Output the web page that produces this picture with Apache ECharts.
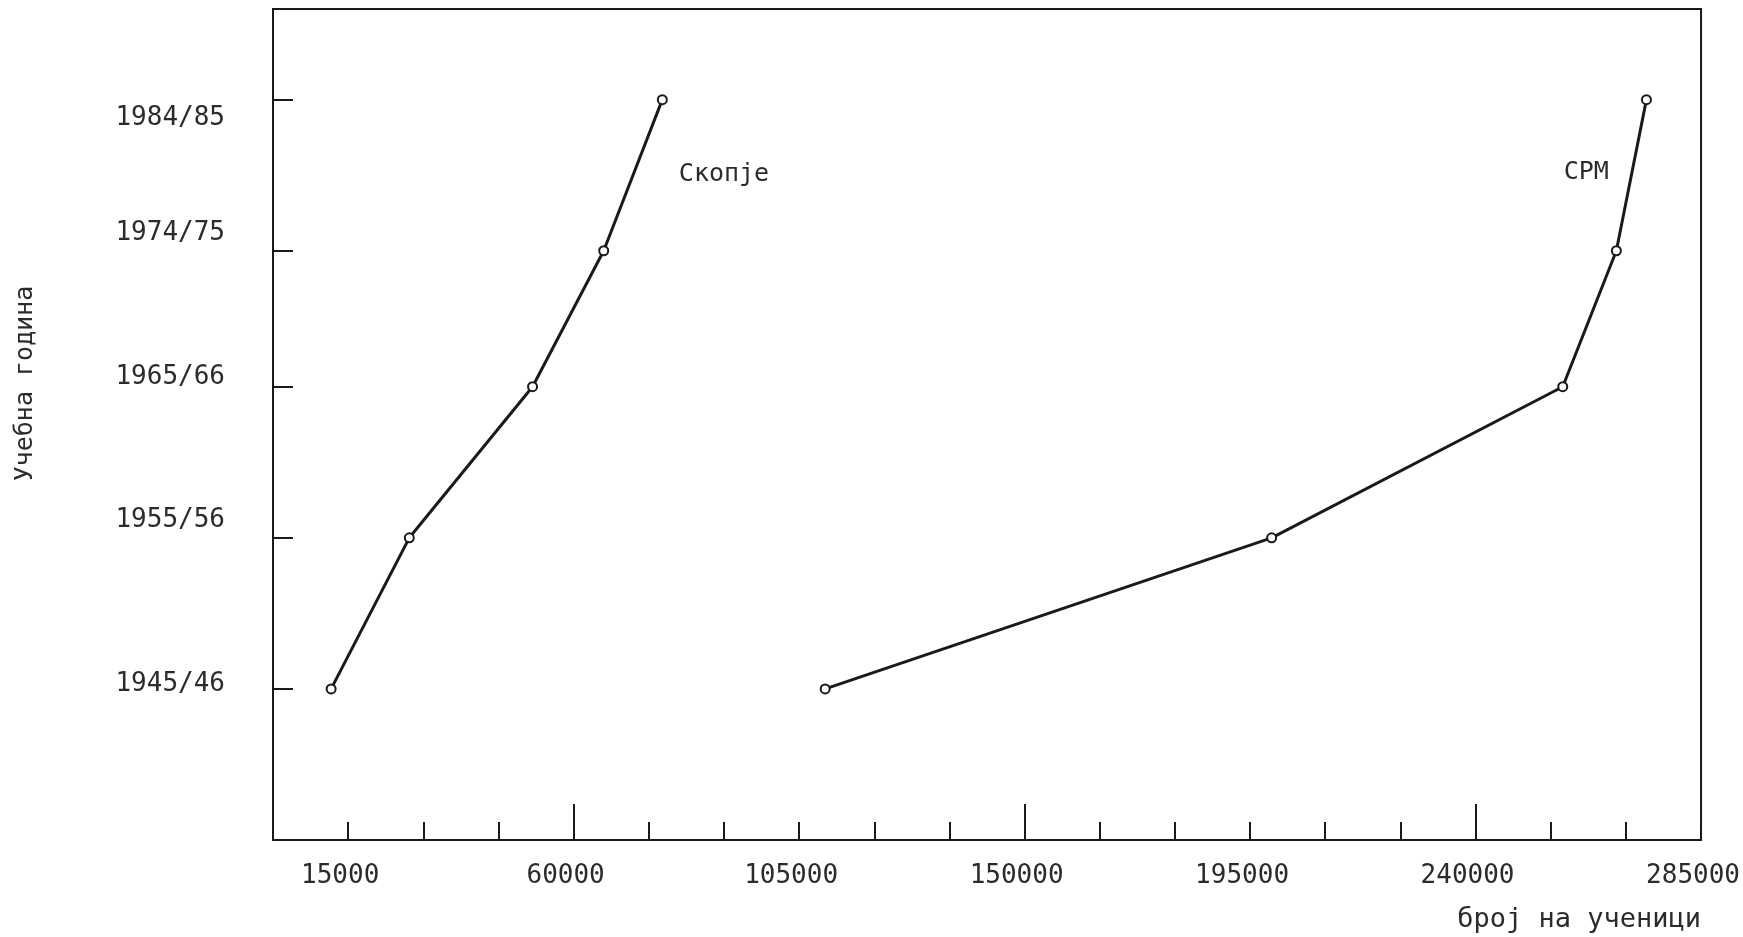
<!DOCTYPE html>
<html>
<head>
<meta charset="utf-8">
<script src="https://cdn.jsdelivr.net/npm/echarts@6/dist/echarts.min.js"></script>
<style>
html,body{margin:0;padding:0;background:#fff;}
#chart{width:1743px;height:937px;}
</style>
</head>
<body>
<div id="chart"></div>
<script>
// ---- data ----
const years = [1945, 1955, 1965, 1974, 1984];
const yearLabels = ['1945/46', '1955/56', '1965/66', '1974/75', '1984/85'];
const skopje = [11600, 27200, 51800, 66000, 77700];
const srm = [110200, 199300, 257400, 268100, 274100];
const seriesNames = ['Скопје', 'СРМ'];
const xLabelValues = [15000, 60000, 105000, 150000, 195000, 240000, 285000];
const xMajorTicks = [60000, 150000, 240000];
const xName = 'број на ученици';
const yName = 'Учебна година';

// ---- style ----
const FONT = '"DejaVu Sans Mono", monospace';
const INK = '#1a1a1a';
const TXT = '#2b2b2b';
const yLabelNudge = [-5, -18, -9, -17, 19];

const rich = {};
yLabelNudge.forEach((d, i) => {
  rich['n' + i] = {
    fontFamily: FONT, fontSize: 26, color: TXT,
    padding: d < 0 ? [0, 0, -2 * d, 0] : [2 * d, 0, 0, 0]
  };
});

function pts(vals) { return years.map((y, i) => [vals[i], y]); }

function lastLabeled(vals, name, pos, off) {
  const d = pts(vals);
  const last = d.length - 1;
  d[last] = {
    value: d[last],
    label: { show: true, formatter: name, position: pos, offset: off,
      fontFamily: FONT, fontSize: 25, color: TXT }
  };
  return d;
}

const chart = echarts.init(document.getElementById('chart'));
chart.setOption({
  animation: false,
  backgroundColor: '#fff',
  grid: { left: 273, right: 32, top: 9, bottom: 97, show: true,
    borderColor: INK, borderWidth: 2, backgroundColor: 'transparent' },
  xAxis: [{
    type: 'value', min: 0, max: 285000, interval: 15000,
    splitLine: { show: false },
    axisLine: { lineStyle: { color: INK, width: 2 } },
    axisTick: { inside: true, length: 18, lineStyle: { color: INK, width: 2 } },
    axisLabel: {
      margin: 23, fontFamily: FONT, fontSize: 26, color: TXT,
      padding: [0, 16, 0, 0],
      formatter: v => xLabelValues.indexOf(v) >= 0 ? String(v) : ''
    },
    name: xName, nameLocation: 'end', nameGap: 0,
    nameTextStyle: { align: 'right', verticalAlign: 'top', padding: [66, 0, 0, 0],
      fontFamily: FONT, fontSize: 27, color: TXT }
  }, {
    type: 'value', min: 0, max: 285000, position: 'bottom',
    splitLine: { show: false }, axisLine: { show: false },
    axisLabel: { show: false },
    axisTick: { inside: true, length: 36, customValues: xMajorTicks,
      lineStyle: { color: INK, width: 2 } }
  }],
  yAxis: {
    type: 'value', min: 1935, max: 1990,
    splitLine: { show: false },
    axisLine: { lineStyle: { color: INK, width: 2 } },
    axisTick: { inside: true, length: 20, customValues: years,
      lineStyle: { color: INK, width: 2 } },
    axisLabel: {
      customValues: years, margin: 48,
      fontFamily: FONT, fontSize: 26, color: TXT, rich: rich,
      formatter: v => { const i = years.indexOf(v); return i >= 0 ? '{n' + i + '|' + yearLabels[i] + '}' : ''; }
    },
    name: yName, nameLocation: 'middle', nameGap: 235,
    nameTextStyle: { fontFamily: FONT, fontSize: 25, color: TXT, padding: [0, 0, 0, 82] }
  },
  series: [{
    name: seriesNames[0], type: 'line',
    data: lastLabeled(skopje, seriesNames[0], 'right', [6, 75]),
    symbol: 'emptyCircle', symbolSize: 9,
    lineStyle: { color: INK, width: 3 },
    itemStyle: { color: INK, borderWidth: 1.6 }
  }, {
    name: seriesNames[1], type: 'line',
    data: lastLabeled(srm, seriesNames[1], 'left', [-27, 73]),
    symbol: 'emptyCircle', symbolSize: 9,
    lineStyle: { color: INK, width: 3 },
    itemStyle: { color: INK, borderWidth: 1.6 }
  }]
});
</script>
</body>
</html>
